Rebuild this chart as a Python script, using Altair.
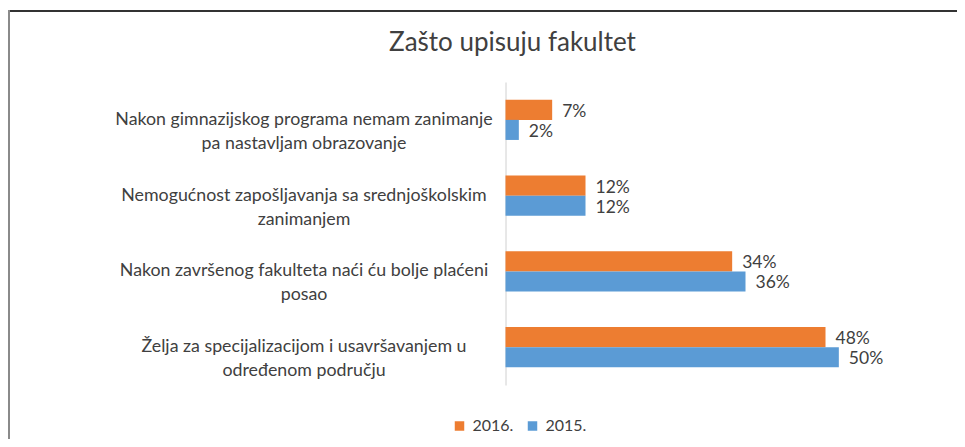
import altair as alt
import pandas as pd

categories = [
    "Nakon gimnazijskog programa nemam zanimanje\npa nastavljam obrazovanje",
    "Nemogućnost zapošljavanja sa srednjoškolskim\nzanimanjem",
    "Nakon završenog fakulteta naći ću bolje plaćeni\nposao",
    "Želja za specijalizacijom i usavršavanjem u\nodređenom području",
]
series = ["2016.", "2015."]
values_2016 = [0.07, 0.12, 0.34, 0.48]
values_2015 = [0.02, 0.12, 0.36, 0.50]
colors = ["#ED7D31", "#5B9BD5"]

rows = []
for c, a, b in zip(categories, values_2016, values_2015):
    rows.append({"kategorija": c, "godina": series[0], "udio": a})
    rows.append({"kategorija": c, "godina": series[1], "udio": b})
df = pd.DataFrame(rows)

FONT = "Lato"
TXT = "#404040"

base = alt.Chart(df).encode(
    y=alt.Y(
        "kategorija:N",
        sort=categories,
        title=None,
        scale=alt.Scale(paddingInner=0.47, paddingOuter=0.235),
        axis=alt.Axis(
            labelExpr="split(datum.value, '\\n')",
            labelAlign="center",
            labelBaseline="middle",
            labelPadding=202,
            labelLineHeight=24,
            labelFontSize=17.8,
            labelFont=FONT,
            labelColor=TXT,
            labelLimit=0,
            ticks=False,
            tickSize=0,
            domainColor="#d0d0d0",
            domainWidth=1,
        ),
    ),
    yOffset=alt.YOffset("godina:N", sort=series, scale=alt.Scale(paddingInner=0, paddingOuter=0)),
)

bars = base.mark_bar().encode(
    x=alt.X("udio:Q", scale=alt.Scale(domain=[0, 0.6]), axis=None),
    color=alt.Color(
        "godina:N",
        sort=series,
        scale=alt.Scale(domain=series, range=colors),
        legend=alt.Legend(
            title=None,
            orient="none",
            direction="horizontal",
            legendX=-54,
            legendY=336,
            symbolType="square",
            symbolSize=90,
            symbolStrokeWidth=0,
            labelFont=FONT,
            labelFontSize=16,
            labelColor=TXT,
            columnPadding=11,
            labelOffset=5,
        ),
    ),
)

labels = base.mark_text(align="left", baseline="middle", dx=10, dy=2, font=FONT, fontSize=17.5, color=TXT).encode(
    x=alt.X("udio:Q"),
    text=alt.Text("udio:Q", format=".0%"),
)

frame_top = alt.Chart(df).mark_rule(color="#333333", strokeWidth=2).encode(
    x=alt.value(-497.5), x2=alt.value(460), y=alt.value(-71)
)
frame_left = alt.Chart(df).mark_rule(color="#8a8a8a", strokeWidth=2).encode(
    x=alt.value(-496.5), y=alt.value(-72), y2=alt.value(370)
)

chart = (
    alt.layer(frame_top, frame_left, bars, labels)
    .properties(
        width=400,
        height=303,
        background="white",
        title=alt.TitleParams(
            "Zašto upisuju fakultet",
            font=FONT,
            fontSize=26,
            fontWeight="normal",
            color=TXT,
            anchor="middle",
            dx=-193,
            dy=47,
            offset=0,
        ),
        autosize=alt.AutoSizeParams(type="none"),
        padding={"left": 497.5, "top": 74, "right": 51, "bottom": 54},
    )
    .configure_view(strokeWidth=0, stroke="transparent")
)

chart.save("out.html", embed_options={"renderer": "svg", "actions": False})
